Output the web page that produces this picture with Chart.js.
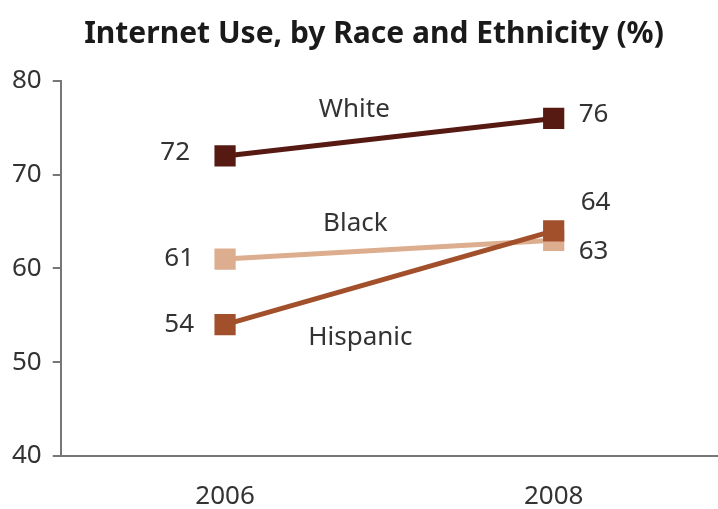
<!DOCTYPE html>
<html>
<head>
<meta charset="utf-8">
<script src="https://cdn.jsdelivr.net/npm/chart.js@4"></script>
<style>
	html, body { margin: 0; padding: 0; background: #fff; overflow: hidden; }
</style>
</head>
<body>
<canvas id="raceChart" width="718" height="509"></canvas>
<script>
const years = ['2006', '2008'];
const whiteUse = [72, 76];
const blackUse = [61, 63];
const hispanicUse = [54, 64];
const yTicks = [40, 50, 60, 70, 80];

const textFont = '"Noto Sans", "Open Sans", sans-serif';

// value labels next to the end points, series name near the line
const lineLabels = {
	id: 'lineLabels',
	afterDatasetsDraw(chart) {
		const ctx = chart.ctx;
		ctx.save();
		ctx.fillStyle = '#333';
		ctx.textBaseline = 'middle';
		chart.data.datasets.forEach((ds, i) => {
			const pts = chart.getDatasetMeta(i).data;
			const a = pts[0], b = pts[pts.length - 1];
			ctx.font = '26px ' + textFont;
			ctx.textAlign = 'right';
			ctx.fillText(ds.data[0], a.x + ds.startOff[0], a.y + ds.startOff[1]);
			ctx.textAlign = 'left';
			ctx.fillText(ds.data[ds.data.length - 1], b.x + ds.endOff[0], b.y + ds.endOff[1]);
			ctx.textAlign = 'center';
			ctx.fillText(ds.label, (a.x + b.x) / 2 + ds.nameOff[0], (a.y + b.y) / 2 + ds.nameOff[1]);
		});
		ctx.restore();
	}
};

new Chart(document.getElementById('raceChart'), {
	type: 'line',
	data: {
		labels: years,
		datasets: [{
			label: 'White',
			data: whiteUse,
			borderColor: '#561a12',
			backgroundColor: '#561a12',
			startOff: [-35, -3], endOff: [25, -4], nameOff: [-35, -28]
		}, {
			label: 'Hispanic',
			data: hispanicUse,
			borderColor: '#a24f2c',
			backgroundColor: '#a24f2c',
			startOff: [-31, 0], endOff: [27, -28], nameOff: [-29, 60]
		}, {
			label: 'Black',
			data: blackUse,
			borderColor: '#dcae8f',
			backgroundColor: '#dcae8f',
			startOff: [-31, 0], endOff: [25, 11], nameOff: [-34, -26]
		}]
	},
	options: {
		responsive: false,
		animation: false,
		layout: { autoPadding: false, padding: { left: 1, right: -29, bottom: -20 } },
		elements: {
			line: { borderWidth: 5, tension: 0 },
			point: { pointStyle: 'rect', radius: 15, hoverRadius: 15, borderWidth: 0 }
		},
		plugins: {
			legend: { display: false },
			tooltip: { enabled: false },
			title: {
				display: true,
				text: 'Internet Use, by Race and Ethnicity (%)',
				color: '#1a1a1a',
				font: { family: textFont, size: 30, weight: 'bold' },
				padding: { top: 16, bottom: 29 }
			}
		},
		scales: {
			x: {
				offset: true,
				grid: { display: false },
				border: { display: true, color: '#777', width: 2 },
				ticks: { color: '#333', padding: 17, font: { family: textFont, size: 26 } }
			},
			y: {
				min: 40,
				max: 80,
				afterBuildTicks(axis) {
					axis.ticks = yTicks.map(v => ({ value: v }));
				},
				grid: { drawOnChartArea: false, drawTicks: true, tickLength: 8, color: '#777', lineWidth: 2 },
				border: { display: true, color: '#777', width: 2 },
				ticks: { color: '#333', padding: 11, font: { family: textFont, size: 26 } }
			}
		}
	},
	plugins: [lineLabels]
});
</script>
</body>
</html>
